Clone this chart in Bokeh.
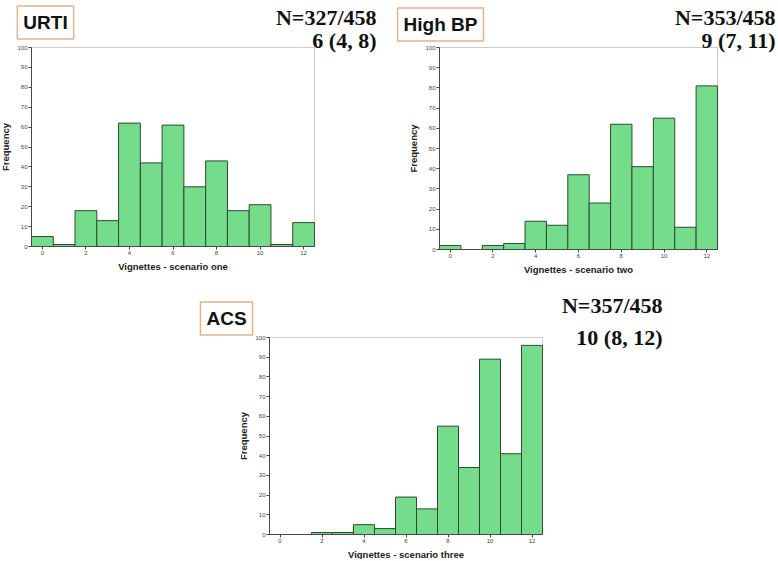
from bokeh.plotting import figure
from bokeh.models import Range1d, Label, FixedTicker, LinearAxis, BoxAnnotation, Grid
from bokeh.layouts import row, column
from bokeh.embed import file_html
from bokeh.resources import INLINE

# ---- data ----
scores = [0, 1, 2, 3, 4, 5, 6, 7, 8, 9, 10, 11, 12]
urti = [5, 1, 18, 13, 62, 42, 61, 30, 43, 18, 21, 1, 12]
high_bp = [2, 0, 2, 3, 14, 12, 37, 23, 62, 41, 65, 11, 81]
acs = [0, 0, 1, 1, 5, 3, 19, 13, 55, 34, 89, 41, 96]

names = ["URTI", "High BP", "ACS"]
axis_titles = ["Vignettes - scenario one", "Vignettes - scenario two", "Vignettes - scenario three"]
n_texts = ["N=327/458", "N=353/458", "N=357/458"]
median_texts = ["6 (4, 8)", "9 (7, 11)", "10 (8, 12)"]
x_ticks = [0, 2, 4, 6, 8, 10, 12]
y_ticks = [0, 10, 20, 30, 40, 50, 60, 70, 80, 90, 100]
x_lo, x_hi = -0.5, 12.5
y_lo, y_hi = 0, 100

GREEN = "#74dc8a"
EDGE = "#2c4a32"
BOX = "#e2b48e"
AXIS = "#444444"


def make_hist(values, title, name, ntext, mtext, geo):
    # geo (page pixels): canvas origin/size, plot-box edges, label anchors
    ox, oy, W, H = geo["canvas"]
    FL, FR, FT, FB = geo["box_edges"]
    sx = (FR - FL) / (x_hi - x_lo)
    sy = (FB - FT) / (y_hi - y_lo)
    xr = Range1d(x_lo - (FL - ox) / sx, x_hi + (ox + W - FR) / sx)
    yr = Range1d(y_lo - (oy + H - FB) / sy, y_hi + (FT - oy) / sy)

    p = figure(width=W, height=H, frame_width=W, frame_height=H,
               min_border=0, x_range=xr, y_range=yr,
               x_axis_location=None, y_axis_location=None,
               output_backend="svg", toolbar_location=None,
               background_fill_color="white", border_fill_color="white")
    p.title.visible = False
    p.outline_line_color = None
    for g in p.select(type=Grid):
        g.visible = False

    p.vbar(x=scores, top=values, width=1.0, bottom=0,
           fill_color=GREEN, line_color=EDGE, line_width=1)

    p.add_layout(BoxAnnotation(left=x_lo, right=x_hi, bottom=y_lo, top=y_hi,
                               fill_alpha=0, line_color="#555555", line_width=1))

    xa = LinearAxis(fixed_location=y_lo, bounds=(x_lo, x_hi),
                    ticker=FixedTicker(ticks=x_ticks), axis_label=title)
    ya = LinearAxis(fixed_location=x_lo, bounds=(y_lo, y_hi),
                    ticker=FixedTicker(ticks=y_ticks), axis_label="Frequency")
    for ax in (xa, ya):
        ax.major_label_text_font = "Liberation Sans"
        ax.major_label_text_font_size = "6px"
        ax.major_label_text_color = AXIS
        ax.axis_label_text_font = "Liberation Sans"
        ax.axis_label_text_font_size = "9.5px"
        ax.axis_label_text_font_style = "bold"
        ax.axis_label_text_color = "#222222"
        ax.major_tick_in = 0
        ax.major_tick_out = 3
        ax.minor_tick_line_color = None
        ax.axis_line_color = AXIS
        ax.major_tick_line_color = AXIS
        ax.major_label_standoff = 1
        ax.axis_label_standoff = 3
    p.add_layout(xa, "below")
    p.add_layout(ya, "left")

    def dx(px):
        return x_lo + (px - FL) / sx

    def dy(py):
        return y_lo + (FB - py) / sy

    bx, by = geo["box"]
    p.add_layout(Label(x=dx(bx), y=dy(by), text=name, text_align="center",
                       text_baseline="middle", text_font="Liberation Sans",
                       text_font_size="19px", text_font_style="bold",
                       text_color="#111111", padding=6,
                       border_line_color=BOX, border_line_width=1.5,
                       background_fill_color="white"))
    nx, ny1, ny2 = geo["n"]
    for txt, yy in ((ntext, ny1), (mtext, ny2)):
        p.add_layout(Label(x=dx(nx), y=dy(yy), text=txt, text_align="right",
                           text_baseline="middle", text_font="Liberation Serif",
                           text_font_size="22px", text_font_style="bold",
                           text_color="#111111"))
    return p


p1 = make_hist(urti, axis_titles[0], names[0], n_texts[0], median_texts[0],
               {"canvas": (0, 0, 388, 280), "box_edges": (31, 314, 47, 246),
                "box": (45, 22), "n": (376, 17, 40)})
p2 = make_hist(high_bp, axis_titles[1], names[1], n_texts[1], median_texts[1],
               {"canvas": (388, 0, 388, 280), "box_edges": (439, 717, 47, 249),
                "box": (440, 24), "n": (775, 17, 40)})
p3 = make_hist(acs, axis_titles[2], names[2], n_texts[2], median_texts[2],
               {"canvas": (0, 280, 776, 279), "box_edges": (269, 542, 337, 534),
                "box": (226, 318), "n": (662, 305, 337)})

layout = column(row(p1, p2), p3)

open("out.html", "w").write(file_html(layout, INLINE))
